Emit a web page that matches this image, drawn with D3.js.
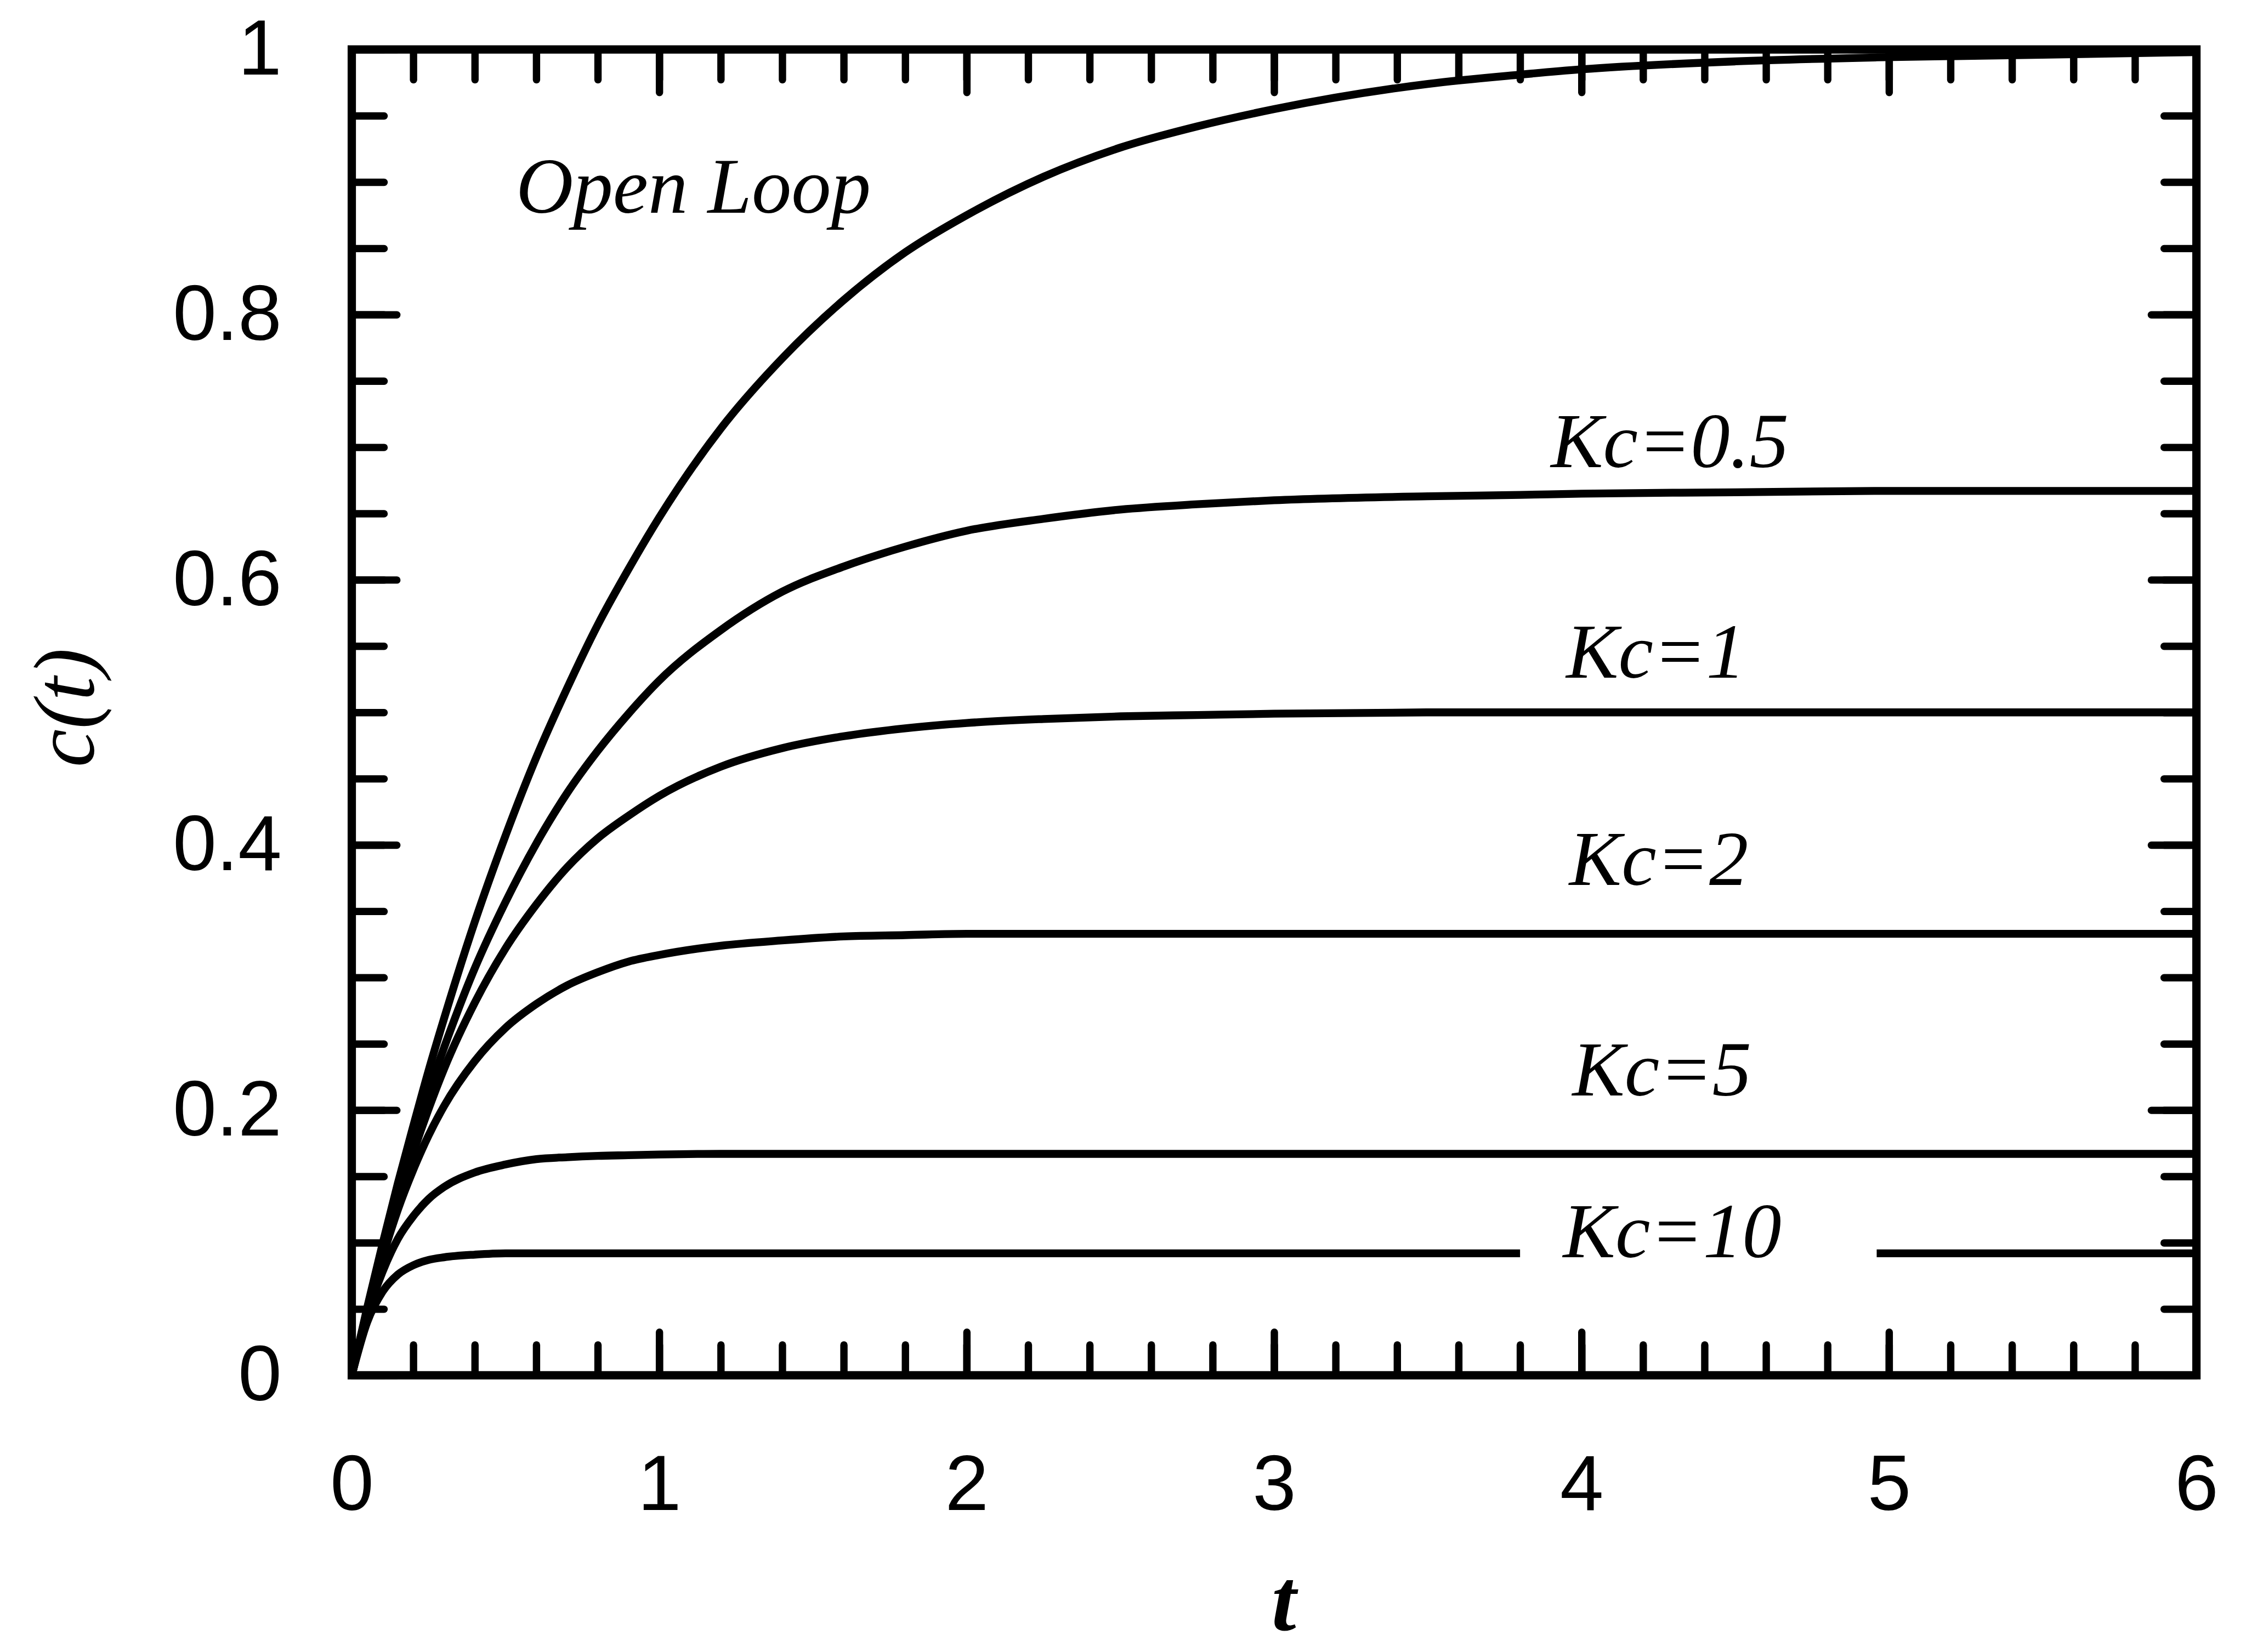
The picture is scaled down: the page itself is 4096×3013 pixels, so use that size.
<!DOCTYPE html>
<html>
<head>
<meta charset="utf-8">
<script src="https://cdn.jsdelivr.net/npm/d3@7"></script>
<style>
  html, body { margin: 0; padding: 0; background: #fff; overflow: hidden; }
  svg { display: block; }
</style>
</head>
<body>
<div id="canvas"></div>
<script>
// time points shared by every curve
const tValues = [0, 0.05, 0.1, 0.15, 0.2, 0.25, 0.3, 0.4, 0.5, 0.6, 0.7, 0.8, 0.9, 1.0,
  1.2, 1.4, 1.6, 1.8, 2.0, 2.25, 2.5, 2.75, 3.0, 3.5, 3.8, 4.0, 4.5, 4.96, 5.5, 6.0];

// c(t), one array per curve
const openLoop = [0, .051, .099, .145, .188, .230, .269, .342, .407, .466, .518, .566, .608, .647,
  .714, .767, .811, .847, .875, .904, .926, .942, .955, .974, .981, .985, .991, .994, .996, .998];
const kc05 = [0, .049, .095, .137, .177, .214, .247, .307, .357, .401, .439, .471, .499, .524,
  .562, .591, .610, .625, .637, .646, .653, .657, .660, .663, .664, .665, .666, .667, .667, .667];
const kc1 = [0, .048, .092, .132, .168, .201, .231, .281, .322, .355, .383, .405, .422, .437,
  .459, .473, .482, .488, .492, .495, .497, .498, .499, .50, .50, .50, .50, .50, .50, .50];
const kc2 = [0, .048, .089, .125, .155, .181, .203, .237, .262, .280, .294, .304, .312, .317,
  .324, .328, .331, .332, .333, .333, .333, .333, .333, .333, .333, .333, .333, .333, .333, .333];
const kc5 = [0, .045, .078, .103, .120, .133, .142, .153, .159, .163, .1645, .1655, .166, .1665,
  .167, .167, .167, .167, .167, .167, .167, .167, .167, .167, .167, .167, .167, .167, .167, .167];
// Kc=10 is broken where its label sits
const kc10 = [0, .04, .063, .076, .083, .087, .089, .091, .092, .092, .092, .092, .092, .092,
  .092, .092, .092, .092, .092, .092, .092, .092, .092, .092, .092, null, null, .092, .092, .092];

const seriesValues = [openLoop, kc05, kc1, kc2, kc5, kc10];

// curve labels and where they sit (in t / c(t) units)
const labelText = ["Open Loop", "Kc=0.5", "Kc=1", "Kc=2", "Kc=5", "Kc=10"];
const labelT = [0.534, 3.90, 3.95, 3.96, 3.97, 3.94];
const labelC = [0.877, 0.685, 0.526, 0.370, 0.211, 0.089];

// tick values
const xMajor = [0, 1, 2, 3, 4, 5, 6];
const xMinor = d3.range(0, 6.001, 0.2);
const yMajor = [0, 0.2, 0.4, 0.6, 0.8, 1];
const yMinor = d3.range(0, 1.001, 0.05);

// drawn in the reference's pixel space, scaled down by the viewBox
const W = 4585, H = 3373;
const plotLeft = 718, plotRight = 4484, plotTop = 101, plotBottom = 2808;

const svg = d3.select("#canvas").append("svg")
  .attr("width", 4096)
  .attr("height", 3013)
  .attr("viewBox", `0 0 ${W} ${H}`);

svg.append("rect").attr("width", W).attr("height", H).attr("fill", "#fff");

const x = d3.scaleLinear().domain([0, 6]).range([plotLeft, plotRight]);
const y = d3.scaleLinear().domain([0, 1]).range([plotBottom, plotTop]);

const tickStroke = 15;

function styleAxis(g) {
  g.select(".domain").remove();
  g.selectAll(".tick line")
    .attr("stroke", "#000")
    .attr("stroke-width", tickStroke)
    .attr("stroke-linecap", "round");
  g.selectAll(".tick text")
    .attr("fill", "#000")
    .attr("font-family", "'Liberation Sans', Arial, sans-serif")
    .attr("font-size", 160);
}

// bottom
svg.append("g").attr("transform", `translate(0,${plotBottom})`)
  .call(d3.axisBottom(x).tickValues(xMinor).tickSize(-62).tickFormat(""))
  .call(styleAxis);
svg.append("g").attr("transform", `translate(0,${plotBottom})`)
  .call(d3.axisBottom(x).tickValues(xMajor).tickSize(-88).tickPadding(162).tickFormat(d3.format("d")))
  .call(styleAxis);

// top
svg.append("g").attr("transform", `translate(0,${plotTop})`)
  .call(d3.axisTop(x).tickValues(xMinor).tickSize(-62).tickFormat(""))
  .call(styleAxis);
svg.append("g").attr("transform", `translate(0,${plotTop})`)
  .call(d3.axisTop(x).tickValues(xMajor).tickSize(-88).tickFormat(""))
  .call(styleAxis);

// left
svg.append("g").attr("transform", `translate(${plotLeft},0)`)
  .call(d3.axisLeft(y).tickValues(yMinor).tickSize(-66).tickFormat(""))
  .call(styleAxis);
svg.append("g").attr("transform", `translate(${plotLeft},0)`)
  .call(d3.axisLeft(y).tickValues(yMajor).tickSize(-92).tickPadding(143).tickFormat(d3.format("~g")))
  .call(styleAxis);

// right
svg.append("g").attr("transform", `translate(${plotRight},0)`)
  .call(d3.axisRight(y).tickValues(yMinor).tickSize(-66).tickFormat(""))
  .call(styleAxis);
svg.append("g").attr("transform", `translate(${plotRight},0)`)
  .call(d3.axisRight(y).tickValues(yMajor).tickSize(-92).tickFormat(""))
  .call(styleAxis);

// frame
svg.append("rect")
  .attr("x", plotLeft).attr("y", plotTop)
  .attr("width", plotRight - plotLeft).attr("height", plotBottom - plotTop)
  .attr("fill", "none")
  .attr("stroke", "#000")
  .attr("stroke-width", 17);

// curves
const line = d3.line()
  .defined(d => d.c != null)
  .x(d => x(d.t))
  .y(d => y(d.c))
  .curve(d3.curveMonotoneX);

svg.append("g").selectAll("path")
  .data(seriesValues.map(vals => tValues.map((t, i) => ({ t: t, c: vals[i] }))))
  .join("path")
  .attr("d", line)
  .attr("fill", "none")
  .attr("stroke", "#000")
  .attr("stroke-width", 16)
  .attr("stroke-linejoin", "round");

// curve labels
svg.append("g").selectAll("text")
  .data(labelText)
  .join("text")
  .attr("x", (d, i) => x(labelT[i]))
  .attr("y", (d, i) => y(labelC[i]))
  .attr("font-family", "'Liberation Serif', 'Times New Roman', serif")
  .attr("font-style", "italic")
  .attr("font-size", (d, i) => i === 0 ? 162 : 160)
  .attr("fill", "#000")
  .text(d => d);

// axis titles
svg.append("text")
  .attr("x", (plotLeft + plotRight) / 2 + 20)
  .attr("y", 3328)
  .attr("text-anchor", "middle")
  .attr("font-family", "'Liberation Serif', 'Times New Roman', serif")
  .attr("font-style", "italic")
  .attr("font-weight", "bold")
  .attr("font-size", 180)
  .text("t");

svg.append("text")
  .attr("transform", "translate(190,1445) rotate(-90)")
  .attr("text-anchor", "middle")
  .attr("font-family", "'Liberation Serif', 'Times New Roman', serif")
  .attr("font-style", "italic")
  .attr("font-size", 175)
  .text("c(t)");
</script>
</body>
</html>
